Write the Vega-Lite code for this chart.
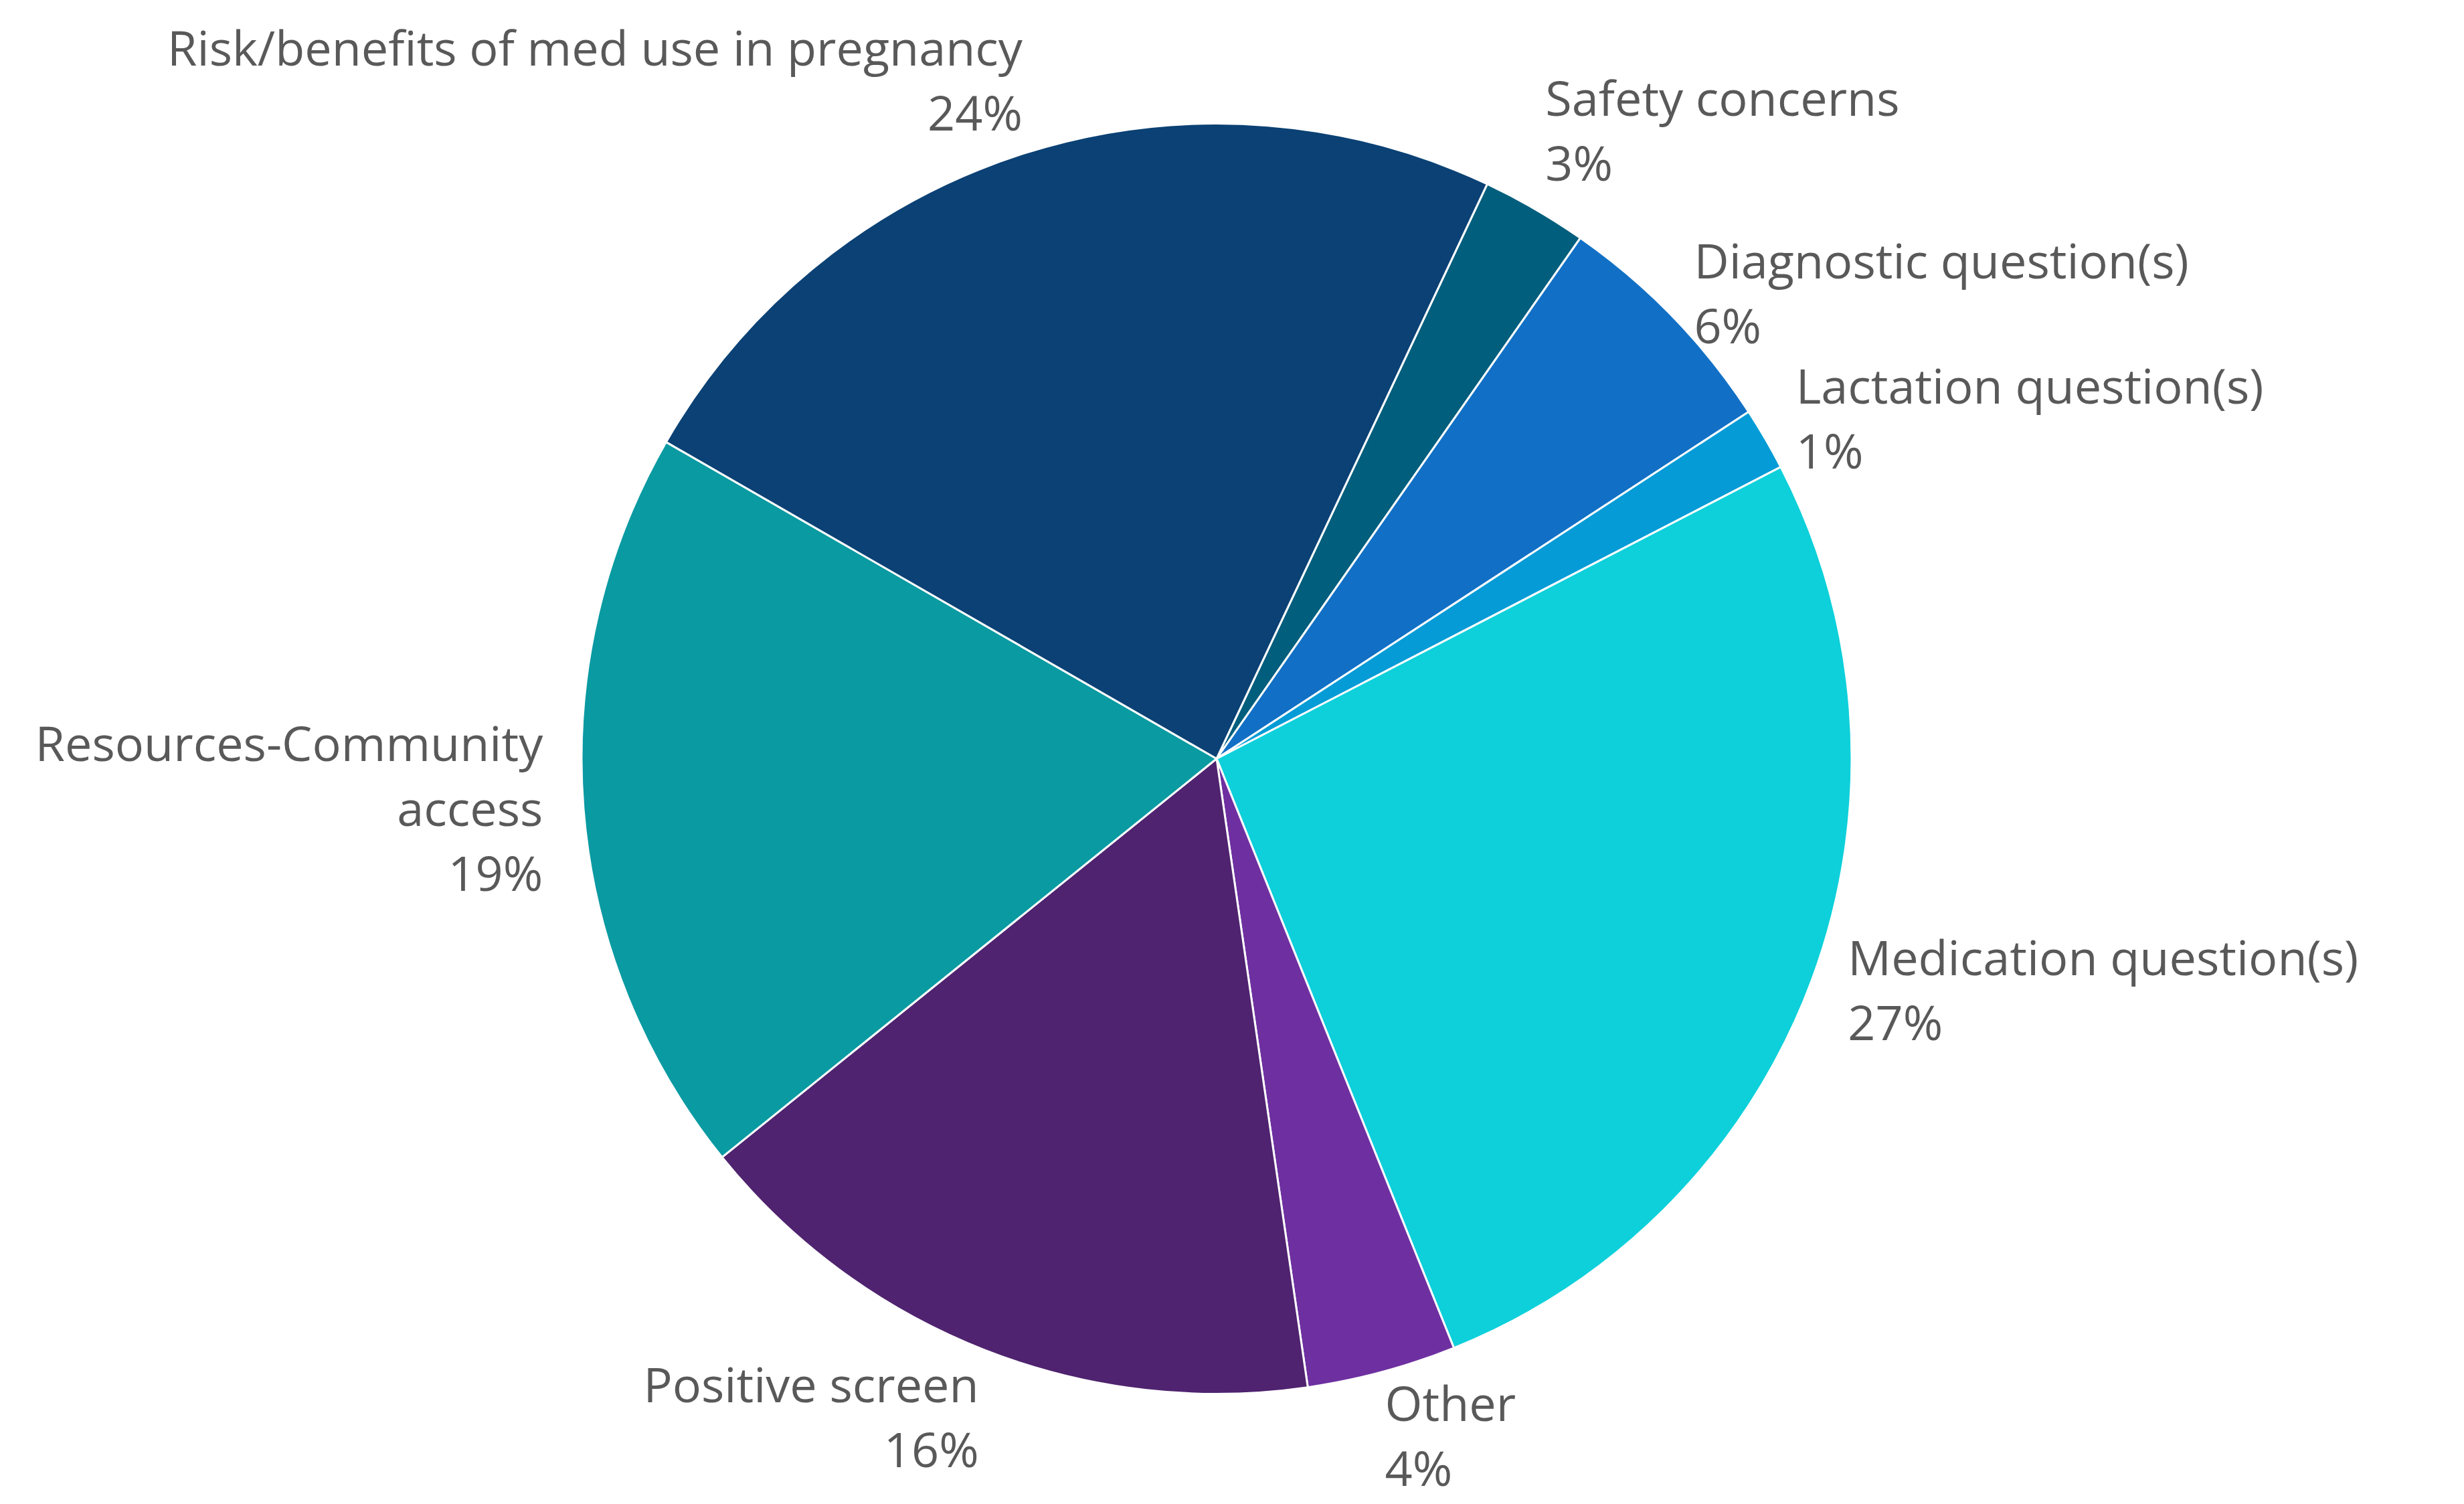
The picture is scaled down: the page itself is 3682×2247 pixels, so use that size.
{
  "$schema": "https://vega.github.io/schema/vega-lite/v6.json",
  "width": 3682,
  "height": 2247,
  "autosize": {"type": "fit", "contains": "padding"},
  "padding": {"left": 0, "right": 46, "top": 20, "bottom": 0},
  "background": "#ffffff",
  "config": {"view": {"stroke": null}},
  "data": {
    "values": [
      {"idx": 1, "category": "Safety concerns", "value": 2.7, "label": "Safety concerns\n3%"},
      {"idx": 2, "category": "Diagnostic question(s)", "value": 6.1, "label": "Diagnostic question(s)\n6%"},
      {"idx": 3, "category": "Lactation question(s)", "value": 1.6, "label": "Lactation question(s)\n1%"},
      {"idx": 4, "category": "Medication question(s)", "value": 26.5, "label": "Medication question(s)\n27%"},
      {"idx": 5, "category": "Other", "value": 3.8, "label": "Other\n4%"},
      {"idx": 6, "category": "Positive screen", "value": 16.5, "label": "Positive screen\n16%"},
      {"idx": 7, "category": "Resources-Community access", "value": 19.1, "label": "Resources-Community\naccess\n19%"},
      {"idx": 8, "category": "Risk/benefits of med use in pregnancy", "value": 23.7, "label": "Risk/benefits of med use in pregnancy\n24%"}
    ]
  },
  "encoding": {
    "theta": {"field": "value", "type": "quantitative", "stack": true, "scale": {"domain": [0, 100], "range": [0.4402, 6.7234]}},
    "order": {"field": "idx", "type": "quantitative", "sort": "ascending"}
  },
  "layer": [
    {
      "mark": {"type": "arc", "outerRadius": 949, "stroke": "#ffffff", "strokeWidth": 3},
      "encoding": {
        "color": {
          "field": "category",
          "type": "nominal",
          "legend": null,
          "scale": {
            "domain": ["Safety concerns", "Diagnostic question(s)", "Lactation question(s)", "Medication question(s)", "Other", "Positive screen", "Resources-Community access", "Risk/benefits of med use in pregnancy"],
            "range": ["#025E7D", "#1170C5", "#049BD6", "#0DD0DA", "#6E30A0", "#4F236F", "#0A9AA2", "#0B4174"]
          }
        }
      }
    },
    {
      "mark": {
        "type": "text",
        "font": "Open Sans",
        "fontSize": 72,
        "lineHeight": 97,
        "lineBreak": "\n",
        "fill": "#595959",
        "radius": {"expr": "950 + 60*abs(sin(0.4402 + PI*(datum.value_start + datum.value_end)/100))"},
        "align": {"expr": "sin(0.4402 + PI*(datum.value_start + datum.value_end)/100) > 0 ? 'left' : 'right'"},
        "baseline": {"expr": "cos(0.4402 + PI*(datum.value_start + datum.value_end)/100) > 0.75 ? 'bottom' : (cos(0.4402 + PI*(datum.value_start + datum.value_end)/100) < -0.6 ? 'top' : 'middle')"},
        "dy": {"expr": "cos(0.4402 + PI*(datum.value_start + datum.value_end)/100) > 0.75 ? -(length(split(datum.label, '\\n')) - 1)*97 : (cos(0.4402 + PI*(datum.value_start + datum.value_end)/100) < -0.6 ? 0 : -(length(split(datum.label, '\\n')) - 1)*48.5)"}
      },
      "encoding": {
        "text": {"field": "label", "type": "nominal"},
        "detail": {"field": "category", "type": "nominal"}
      }
    }
  ]
}
